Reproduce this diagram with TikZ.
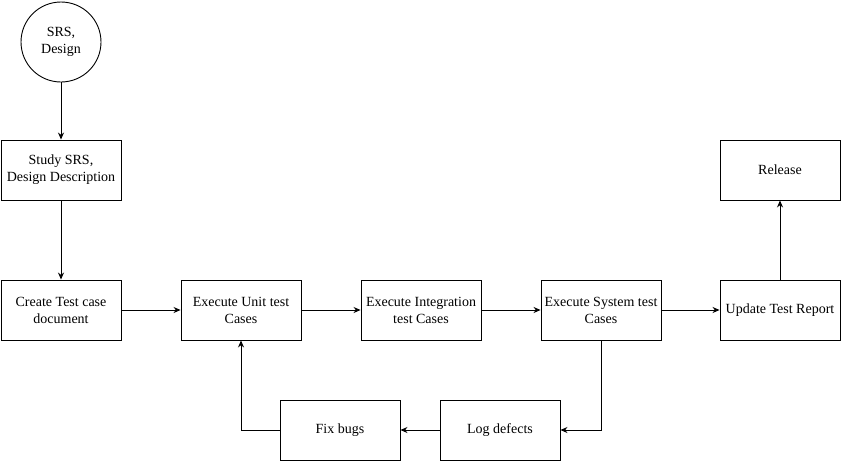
\documentclass[tikz,border=0pt]{standalone}
\usepackage{fontspec}
\setmainfont{Liberation Serif}
\usepackage{tikz}
\usetikzlibrary{arrows.meta, positioning, shapes.geometric}

\tikzset{
  stepbox/.style={draw, line width=0.9pt, minimum width=120pt,
    minimum height=60pt, align=center, inner sep=1pt,
    font=\fontsize{14}{17}\selectfont},
  startnode/.style={draw, circle, line width=0.9pt, minimum size=80pt,
    align=center, font=\fontsize{14}{17}\selectfont},
  flow/.style={-{Stealth[length=7pt,width=6pt]}, line width=0.9pt}
}

\begin{document}
\begin{tikzpicture}[x=1pt, y=-1pt]
  \useasboundingbox (0,0) rectangle (841,461);

  \node[startnode] (srs) at (61,42) {SRS,\\Design};
  \node[stepbox] (study) at (61,170) {Study SRS,\\Design Description};
  \node[stepbox] (create) at (61,310) {Create Test case\\document};
  \node[stepbox] (unit) at (241,310) {Execute Unit test\\Cases};
  \node[stepbox] (integ) at (421,310) {Execute Integration\\test Cases};
  \node[stepbox] (system) at (601,310) {Execute System test\\Cases};
  \node[stepbox] (report) at (780,310) {Update Test Report};
  \node[stepbox] (release) at (780,170) {Release};
  \node[stepbox] (fix) at (340,430) {Fix bugs};
  \node[stepbox] (log) at (500,430) {Log defects};

  % main flow
  \draw[flow] (srs) -- (study);
  \draw[flow] (study) -- (create);
  \draw[flow] (create) -- (unit);
  \draw[flow] (unit) -- (integ);
  \draw[flow] (integ) -- (system);
  \draw[flow] (system) -- (report);
  \draw[flow] (report) -- (release);

  % defect loop
  \draw[flow] (system.south) |- (log.east);
  \draw[flow] (log) -- (fix);
  \draw[flow] (fix.west) -| (unit.south);
\end{tikzpicture}
\end{document}
